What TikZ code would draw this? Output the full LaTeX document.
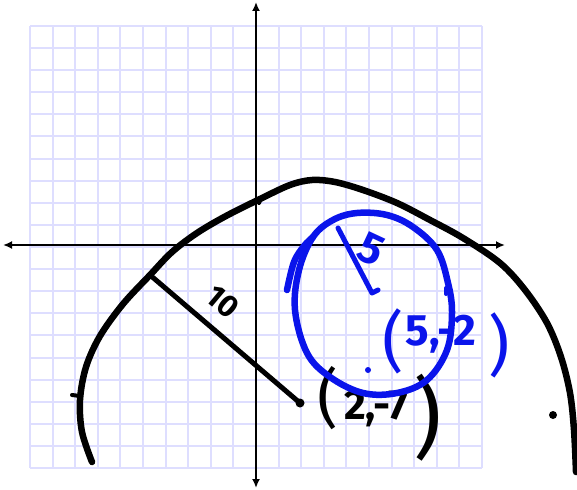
\documentclass[tikz,border=0pt]{standalone}
\usepackage{fontspec}
\setmainfont{Fira Sans}
\usetikzlibrary{arrows.meta}
\definecolor{gridc}{RGB}{222,222,255}
\definecolor{penblue}{RGB}{10,20,235}
\begin{document}
\begin{tikzpicture}[x=1pt,y=-1pt,
  gridline/.style={draw=gridc,line width=2pt},
  axis/.style={draw=black,line width=2.4pt,-{Latex[length=9pt,width=8pt]}},
  blackpen/.style={draw=black,line width=6.5pt,line cap=round,line join=round},
  bluepen/.style={draw=penblue,line width=6.5pt,line cap=round,line join=round},
  handtext/.style={inner sep=0pt,font=\bfseries}]
\useasboundingbox[fill=white] (0,0) rectangle (577,489);
% grid
\foreach \i in {0,...,20}{
  \draw[gridline] ({30+\i*22.6},26) -- ({30+\i*22.6},468);
  \draw[gridline] (30,{26+\i*22.1}) -- (482,{26+\i*22.1});
}
% axes
\coordinate (xr) at (505,245);
\coordinate (xL) at (3,245);
\coordinate (yt) at (256,2);
\coordinate (yb) at (256,488);
\coordinate (o) at (256,245);
\draw[axis] (o) -- (xr);
\draw[axis] (o) -- (xL);
\draw[axis] (o) -- (yt);
\draw[axis] (o) -- (yb);
% big black circle arc
\draw[blackpen] plot[smooth,tension=0.55] coordinates {(92,462) (82,432) (80,400) (86,367) (100,336) (123,304) (150,275) (172,252) (197,233) (226,216) (260,199) (290,185) (312,180) (335,182) (363,190) (397,203) (430,220) (463,238) (500,263) (525,290) (547,323) (561,357) (570,393) (574,430) (576,472)};
\draw[blackpen,line width=4pt] (72,395) -- (80,396);
\draw[blackpen,line width=4pt] (259,203) -- (262,197);
% black radius
\coordinate (rc) at (300,403);
\coordinate (ra) at (150,275);
\draw[blackpen,line width=5pt] (ra) -- (rc);
\fill (rc) circle (4.5pt);
\fill (553,415) circle (4pt);
\node[handtext,rotate=-40,font=\bfseries\fontsize{31}{34}\selectfont] (ten) at (223,302) {10};
% black label
\node[handtext,font=\fontsize{64}{70}\selectfont] (bp1) at (328,398) {(};
\node[handtext,font=\bfseries\fontsize{42}{48}\selectfont] (bl) at (376,409) {2,-7};
\node[handtext,font=\fontsize{88}{94}\selectfont] (bp2) at (428,418) {)};
% blue circle
\draw[bluepen] plot[smooth cycle,tension=0.6] coordinates {(357,213) (387,215) (413,227) (437,250) (448,283) (452,313) (447,350) (427,380) (397,393) (363,393) (330,377) (307,353) (295,310) (299,270) (313,237) (333,220)};
\draw[bluepen] plot[smooth,tension=0.6] coordinates {(287,290) (294,262) (304,246) (313,237)};
\draw[bluepen,line width=4pt] (446,288) -- (446,294);
\fill[penblue] (368,370) circle (3pt);
% blue radius
\coordinate (bc) at (372,293);
\coordinate (ba) at (338,228);
\draw[bluepen,line width=5pt] (ba) -- (bc) -- (378,290);
\node[handtext,text=penblue,rotate=-25,font=\bfseries\fontsize{44}{48}\selectfont] (five) at (371,249) {5};
\node[handtext,text=penblue,font=\fontsize{66}{72}\selectfont] (bp3) at (393,341) {(};
\node[handtext,text=penblue,font=\bfseries\fontsize{44}{50}\selectfont] (bl2) at (441,334) {5,-2};
\node[handtext,text=penblue,font=\fontsize{66}{72}\selectfont] (bp4) at (499,345) {)};
\end{tikzpicture}
\end{document}
